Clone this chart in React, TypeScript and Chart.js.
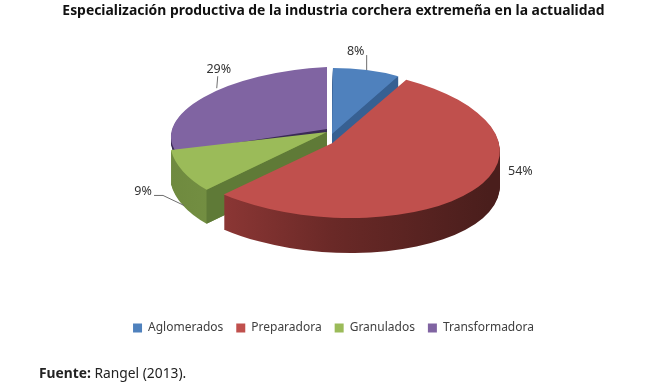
import React, { useEffect, useRef } from "react";
import { Chart, registerables } from "chart.js";

Chart.register(...registerables);

const titleText = "Especialización productiva de la industria corchera extremeña en la actualidad";
const categories = ["Aglomerados", "Preparadora", "Granulados", "Transformadora"];
const shares = [8, 54, 9, 29];
const topColors = ["#4f81bd", "#c0504d", "#9bbb59", "#8064a2"];
const cutColors = ["#376092", "", "#5f7a37", "#3a2a55"];
// which radial edge of each slice shows a cut face
const cutEdges = ["endAngle", "", "startAngle", "startAngle"];
const wallStops = [
  ["#376092", "#33598a", "#2c4f7a"],
  ["#993c3a", "#6a2927", "#4a1e1c"],
  ["#6f8a3f", "#7f9b49", "#8ba650"],
  ["#3a2a55", "#3a2a55", "#3a2a55"],
];

// Per-slice perspective view of the flat pie: [a, b, c, d, e, f]
const views = [
  [0.87, 0, -0.006, 0.423, 332, 134],
  [1.072, 0.03, 0.05, 0.48, 332.5, 143],
  [1.003, 0.015, -0.117, 0.522, 327, 132],
  [1.0, -0.05, 0, 0.397, 327, 129],
];
const depths = [34, 35, 34, 5];
const paintOrder = [3, 0, 2, 1];
const RADIUS = 156;

// Label placement relative to the projected mid-point of each slice's rim
const labelShift = [
  [-11, -19],
  [48, -19],
  [-40, 20],
  [15, -28],
];
const leaders: number[][][] = [
  [[0, 0], [0, -15]],
  [],
  [[1, 34], [-20, 24], [-29, 24]],
  [[13, -9], [14, -21]],
];

const pie3d = {
  id: "pie3d",
  beforeDatasetsDraw(chart: any) {
    const ctx = chart.ctx;
    const arcs = chart.getDatasetMeta(0).data;
    const total = shares.reduce((s, v) => s + v, 0);

    const project = (i: number, angle: number, dist: number) => {
      const [a, b, c, d, e, f] = views[i];
      const u = Math.cos(angle) * dist;
      const v = Math.sin(angle) * dist;
      return [a * u + c * v + e, b * u + d * v + f];
    };

    paintOrder.forEach((i) => {
      const arc = arcs[i];
      const [a, b, c, d, e, f] = views[i];
      const depth = depths[i];
      const gradient = ctx.createLinearGradient(e - RADIUS, 0, e + RADIUS, 0);
      wallStops[i].forEach((color, n) => gradient.addColorStop(n / 2, color));

      // outer wall: stacked copies of the sector
      for (let step = depth; step >= 1; step--) {
        ctx.save();
        ctx.translate(0, step);
        ctx.transform(a, b, c, d, e, f);
        ctx.beginPath();
        ctx.moveTo(0, 0);
        ctx.arc(0, 0, arc.outerRadius, arc.startAngle, arc.endAngle);
        ctx.closePath();
        ctx.restore();
        ctx.fillStyle = gradient;
        ctx.fill();
      }

      // radial cut face
      if (cutEdges[i]) {
        const tip = project(i, 0, 0);
        const rim = project(i, arc[cutEdges[i]], arc.outerRadius);
        ctx.beginPath();
        ctx.moveTo(tip[0], tip[1]);
        ctx.lineTo(rim[0], rim[1]);
        ctx.lineTo(rim[0], rim[1] + depth);
        ctx.lineTo(tip[0], tip[1] + depth);
        ctx.closePath();
        ctx.fillStyle = cutColors[i];
        ctx.fill();
      }

      // top face, drawn by the library's own arc element
      ctx.save();
      ctx.transform(a, b, c, d, e, f);
      ctx.translate(-arc.x, -arc.y);
      arc.draw(ctx);
      ctx.restore();
    });

    // percentage labels and leader lines
    ctx.font = "12.5px 'Noto Sans'";
    ctx.textAlign = "center";
    ctx.textBaseline = "middle";
    arcs.forEach((arc: any, i: number) => {
      const mid = (arc.startAngle + arc.endAngle) / 2;
      const rim = project(i, mid, arc.outerRadius);
      if (leaders[i].length) {
        ctx.beginPath();
        leaders[i].forEach((p, n) => {
          if (n === 0) ctx.moveTo(rim[0] + p[0], rim[1] + p[1]);
          else ctx.lineTo(rim[0] + p[0], rim[1] + p[1]);
        });
        ctx.strokeStyle = "#6e6e6e";
        ctx.lineWidth = 1;
        ctx.stroke();
      }
      ctx.fillStyle = "#333333";
      const pct = Math.round((shares[i] / total) * 100);
      ctx.fillText(`${pct}%`, rim[0] + labelShift[i][0], rim[1] + labelShift[i][1]);
    });
    return false;
  },
};

export default function App() {
  const ref = useRef<HTMLCanvasElement>(null);
  useEffect(() => {
    const chart = new Chart(ref.current as HTMLCanvasElement, {
      type: "pie",
      data: {
        labels: categories,
        datasets: [
          {
            data: shares,
            backgroundColor: topColors,
            borderWidth: 0,
            radius: RADIUS,
          },
        ],
      },
      options: {
        responsive: false,
        animation: false,
        layout: { padding: { left: 18, top: 3, bottom: 45 } },
        plugins: {
          tooltip: { enabled: false },
          title: {
            display: true,
            text: titleText,
            color: "#111111",
            font: { family: "'Noto Sans'", size: 13.9, weight: "bold" },
            padding: { top: 0, bottom: 4 },
          },
          legend: {
            position: "bottom",
            labels: {
              boxWidth: 9,
              boxHeight: 9,
              padding: 13,
              color: "#404040",
              font: { family: "'Noto Sans'", size: 12 },
            },
          },
        },
      },
      plugins: [pie3d],
    } as any);
    return () => chart.destroy();
  }, []);

  return (
    <div style={{ position: "fixed", left: 0, top: 0, width: 649, height: 389, background: "#fff", overflow: "hidden" }}>
      <canvas ref={ref} width={649} height={389} style={{ display: "block", filter: "blur(0.3px)" }} />
      <div
        style={{
          position: "absolute",
          left: 39,
          top: 364,
          fontFamily: "'Noto Sans'",
          fontSize: 13.8,
          lineHeight: "18px",
          color: "#222",
          whiteSpace: "nowrap",
        }}
      >
        <b>Fuente:</b> Rangel (2013).
      </div>
    </div>
  );
}
